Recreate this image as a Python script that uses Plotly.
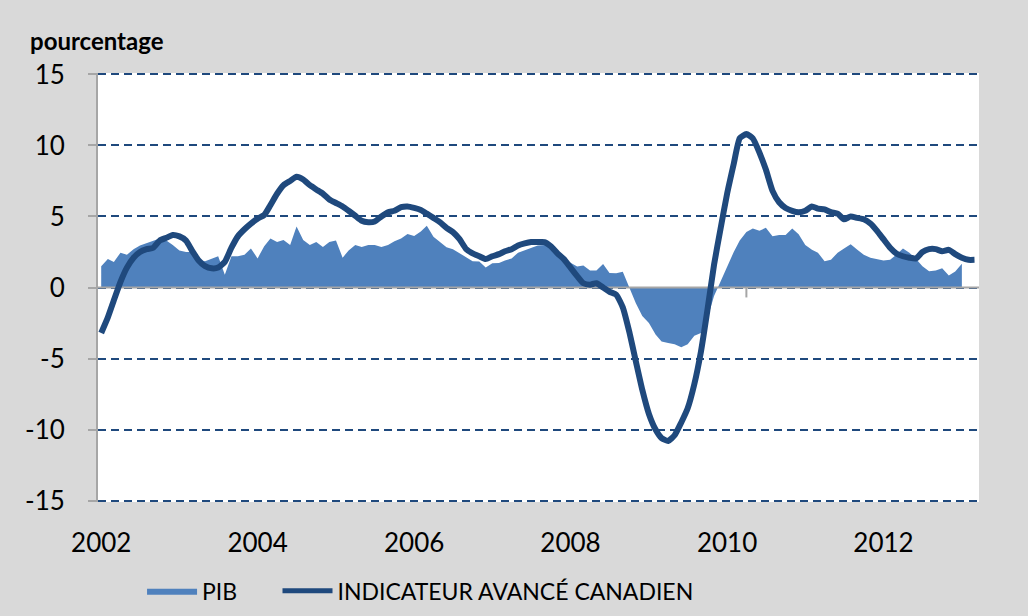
import pandas as pd
import plotly.graph_objects as go

# Monthly data, January 2002 onward
start_month = "2002-01-01"

pib = [1.5, 2.0, 1.8, 2.45, 2.3, 2.7, 2.95, 3.1, 3.3, 3.45, 3.3, 3.0,
       2.6, 2.5, 2.5, 1.95, 1.85, 2.0, 2.2, 0.9, 2.2, 2.2, 2.3, 2.75,
       2.05, 2.9, 3.45, 3.2, 3.35, 3.0, 4.3, 3.35, 3.0, 3.2, 2.85, 3.2,
       3.3, 2.1, 2.6, 3.0, 2.85, 3.0, 3.0, 2.85, 3.0, 3.25, 3.45, 3.77,
       3.63, 3.95, 4.35, 3.58, 3.2, 2.84, 2.7, 2.4, 2.15, 1.85, 1.83, 1.4,
       1.7, 1.72, 1.9, 2.05, 2.45, 2.6, 2.8, 2.95, 3.0, 2.8, 2.3, 1.95,
       1.75, 1.47, 1.55, 1.2, 1.2, 1.66, 1.02, 1.01, 1.1, 0.0, -1.1, -2.0,
       -2.5, -3.3, -3.8, -3.9, -4.0, -4.2, -4.0, -3.4, -3.2, -2.2, -0.6, 0.4,
       1.5, 2.5, 3.3, 3.9, 4.15, 4.0, 4.2, 3.6, 3.7, 3.7, 4.15, 3.75,
       3.0, 2.65, 2.45, 1.85, 1.95, 2.45, 2.75, 3.05, 2.65, 2.3, 2.1, 1.99,
       1.9, 1.95, 2.3, 2.75, 2.45, 2.0, 1.5, 1.15, 1.2, 1.36, 0.85, 1.12,
       1.68]

indicateur = [-3.2, -2.1, -0.9, 0.4, 1.4, 2.1, 2.5, 2.7, 2.8, 3.3, 3.5, 3.7,
              3.6, 3.3, 2.6, 1.9, 1.5, 1.35, 1.4, 1.8, 2.8, 3.6, 4.1, 4.5,
              4.85, 5.1, 5.8, 6.6, 7.2, 7.5, 7.8, 7.6, 7.2, 6.9, 6.6, 6.2,
              5.95, 5.7, 5.4, 5.05, 4.7, 4.6, 4.65, 5.0, 5.3, 5.4, 5.65, 5.7,
              5.6, 5.45, 5.2, 4.9, 4.6, 4.2, 3.9, 3.4, 2.7, 2.4, 2.2, 2.0,
              2.2, 2.35, 2.55, 2.7, 2.95, 3.1, 3.2, 3.2, 3.2, 2.9, 2.4, 2.0,
              1.4, 0.8, 0.3, 0.2, 0.3, 0.0, -0.3, -0.5, -1.4, -3.1, -5.2, -7.2,
              -8.9, -10.0, -10.6, -10.8, -10.4, -9.5, -8.5, -6.8, -4.5, -1.6, 1.6, 4.1,
              6.6, 8.7, 10.5, 10.8, 10.5, 9.5, 8.3, 6.8, 6.0, 5.6, 5.4, 5.3,
              5.4, 5.7, 5.55, 5.5, 5.3, 5.2, 4.8, 5.0, 4.9, 4.8, 4.5, 4.0,
              3.4, 2.8, 2.4, 2.2, 2.1, 2.05, 2.5, 2.7, 2.7, 2.55, 2.65, 2.35,
              2.1, 1.95, 1.95]

y_ticks = [-15, -10, -5, 0, 5, 10, 15]
y_ticktext = [str(v) for v in y_ticks]
x_range = ["2001-12-17", "2013-03-22"]
y_range = [-15.1, 15.1]
axis_tick_month = "2010-04-01"

x_pib = pd.date_range(start_month, periods=len(pib), freq="MS")
x_ind = pd.date_range(start_month, periods=len(indicateur), freq="MS")

FONT = "Lato"
NAVY = "#1f497d"
BLUE = "#4f81bd"
GREY = "#a6a6a6"
NBSP = "\u00a0"

fig = go.Figure()
fig.add_trace(go.Scatter(
    x=x_pib, y=pib, name="PIB" + NBSP * 6, mode="lines",
    line=dict(width=0, color=BLUE), fill="tozeroy", fillcolor=BLUE,
    hoverinfo="x+y"))
# zero line (category axis line in the original) drawn between area and line
fig.add_trace(go.Scatter(
    x=x_range, y=[0, 0], mode="lines", line=dict(color=GREY, width=2),
    showlegend=False, hoverinfo="skip"))
fig.add_trace(go.Scatter(
    x=x_ind, y=indicateur, name="INDICATEUR AVANCÉ CANADIEN", mode="lines",
    line=dict(width=6, color=NAVY, shape="spline", smoothing=0.5)))

fig.add_shape(type="line", xref="x", yref="y", x0=axis_tick_month, x1=axis_tick_month,
              y0=0, y1=-0.7, line=dict(color=GREY, width=2))

fig.update_layout(
    width=1028, height=616,
    paper_bgcolor="#d9d9d9", plot_bgcolor="white",
    margin=dict(l=98, r=49, t=73, b=114, autoexpand=False),
    font=dict(family=FONT, color="black"),
    showlegend=True,
    legend=dict(orientation="h", x=0.05, xanchor="left", y=-0.207, yanchor="middle",
                font=dict(size=23, family=FONT), bgcolor="rgba(0,0,0,0)",
                itemwidth=50, traceorder="normal", itemsizing="constant"),
    xaxis=dict(type="date", range=x_range, showgrid=False, zeroline=False,
               showline=False, ticks="", tick0="2002-01-01", dtick="M24",
               tickformat="%Y", tickfont=dict(size=26, family=FONT),
               ticklabelstandoff=23),
    yaxis=dict(range=y_range, tickvals=y_ticks, ticktext=y_ticktext, showgrid=True,
               gridcolor=NAVY, gridwidth=1.8, griddash="8px,5px",
               zeroline=False, showline=True, linecolor=GREY, linewidth=2,
               ticks="outside", ticklen=8, tickcolor=GREY, tickwidth=2,
               tickfont=dict(size=26, family=FONT), ticklabelstandoff=18),
    annotations=[dict(text="<b>pourcentage</b>", xref="paper", yref="paper",
                      x=-0.079, y=1.075, xanchor="left", yanchor="middle",
                      showarrow=False, font=dict(size=24, family=FONT))],
)

fig.write_html("out.html", config={"displayModeBar": False},
               post_script="document.body.style.margin='0';")
